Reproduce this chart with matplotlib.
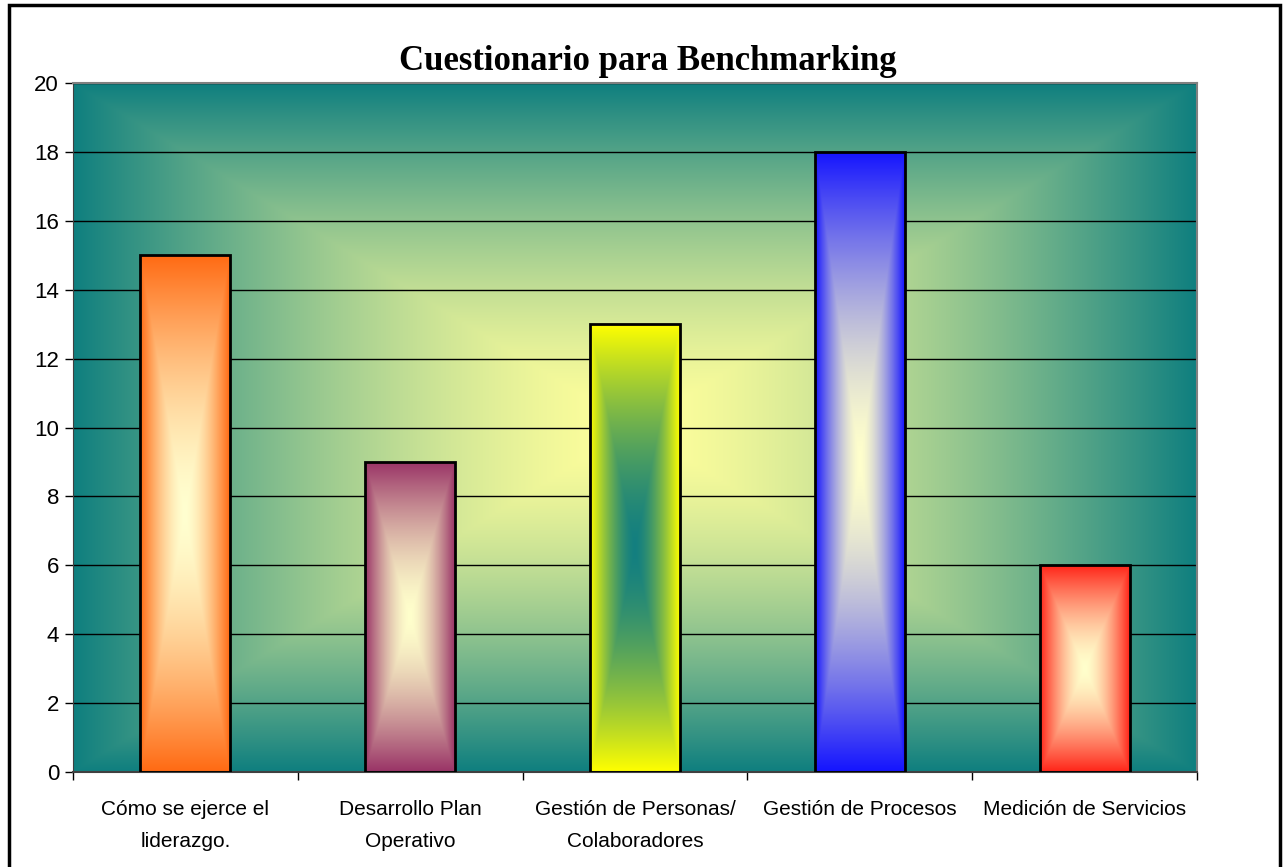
import numpy as np
import matplotlib.pyplot as plt
from matplotlib.colors import to_rgb
from matplotlib.patches import Rectangle

# datos del grafico
categories = ['Cómo se ejerce el\nliderazgo.', 'Desarrollo Plan\nOperativo',
              'Gestión de Personas/\nColaboradores', 'Gestión de Procesos',
              'Medición de Servicios']
values = [15, 9, 13, 18, 6]
edge_colors = ['#FF6A13', '#993366', '#FFFF00', '#1414FF', '#FF2418']
center_colors = ['#FFFFD0', '#FFFFCC', '#137F80', '#FFFFCC', '#FFFFCC']
title = 'Cuestionario para Benchmarking'
yticks = list(range(0, 21, 2))

label_font = ['Liberation Sans', 'DejaVu Sans']


def rect_gradient(c_center, c_edge, nx=200, ny=400, gamma=1.0):
    """degradado rectangular desde el centro (tipo Excel)"""
    x = np.linspace(-1, 1, nx)
    y = np.linspace(-1, 1, ny)
    X, Y = np.meshgrid(x, y)
    t = np.maximum(np.abs(X), np.abs(Y)) ** gamma
    c0 = np.array(to_rgb(c_center))
    c1 = np.array(to_rgb(c_edge))
    return c0 + (c1 - c0) * t[..., None]


fig = plt.figure(figsize=(12.83, 8.67), dpi=100)
ax = fig.add_axes([73 / 1283, 1 - 772 / 867, 1124 / 1283, 689 / 867])

# fondo del area de trazado
bg = rect_gradient('#FFFF9C', '#0F7F7F', nx=400, ny=300, gamma=1.5)
ax.imshow(bg, extent=(0, 1, 0, 1), transform=ax.transAxes, aspect='auto',
          zorder=0, interpolation='bilinear')

x = np.arange(len(categories))
bars = ax.bar(x, values, width=0.4, facecolor='none', edgecolor='black',
              linewidth=2, zorder=3)

for bar, c_edge, c_center in zip(bars, edge_colors, center_colors):
    x0 = bar.get_x()
    x1 = x0 + bar.get_width()
    h = bar.get_height()
    grad = rect_gradient(c_center, c_edge, gamma=1.6)
    im = ax.imshow(grad, extent=(x0, x1, 0, h), aspect='auto', zorder=2,
                   interpolation='bilinear')
    im.set_clip_path(bar)

ax.set_xlim(-0.5, len(categories) - 0.5)
ax.set_ylim(0, 20)
ax.set_yticks(yticks)
ax.yaxis.grid(True, color='black', linewidth=1)
ax.set_axisbelow(True)

ax.set_xticks(x)
ax.set_xticklabels(categories, family=label_font, fontsize=15, linespacing=1.9)
ax.set_xticks(np.arange(-0.5, len(categories)), minor=True)
ax.tick_params(axis='x', which='major', length=0, pad=20)
ax.tick_params(axis='x', which='minor', length=6, width=1, direction='out')
ax.tick_params(axis='y', length=6, width=1, direction='out', pad=4,
               labelsize=16)
for lab in ax.get_yticklabels():
    lab.set_family(label_font)

for side in ['top', 'right']:
    ax.spines[side].set_color('#808080')
    ax.spines[side].set_linewidth(1.5)
ax.spines['left'].set_color('#404040')
ax.spines['bottom'].set_color('#404040')
ax.spines['bottom'].set_linewidth(1.5)

fig.text(648 / 1283, 1 - 62 / 867, title, ha='center', va='center',
         family=['Liberation Serif', 'DejaVu Serif'], fontweight='bold',
         fontsize=25)

# borde del grafico
fig.patches.append(Rectangle((9 / 1283, -0.01), 1271 / 1283, 1.01 - 5 / 867,
                             transform=fig.transFigure, fill=False,
                             edgecolor='black', linewidth=2.5))

plt.savefig('out.png', dpi=100)
